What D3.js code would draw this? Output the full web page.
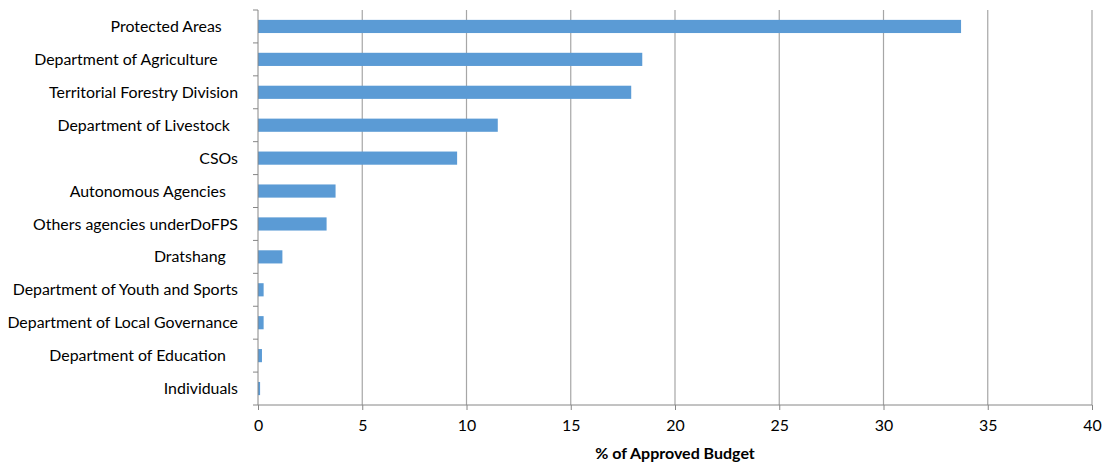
<!DOCTYPE html>
<html>
<head>
<meta charset="utf-8">
<script src="https://cdn.jsdelivr.net/npm/d3@7"></script>
<style>
  body { margin: 0; background: #fff; }
  text { font-family: Lato, "Open Sans", sans-serif; fill: #000; }
  .cat text { white-space: pre; }
</style>
</head>
<body>
<script>
// categories, top to bottom (trailing spaces as in the source sheet)
const categories = [
  "Protected Areas    ",
  "Department of Agriculture     ",
  "Territorial Forestry Division",
  "Department of Livestock  ",
  "CSOs",
  "Autonomous Agencies   ",
  "Others agencies underDoFPS",
  "Dratshang   ",
  "Department of Youth and Sports",
  "Department of Local Governance",
  "Department of Education   ",
  "Individuals"
];
const values = [33.72, 18.43, 17.9, 11.5, 9.55, 3.72, 3.29, 1.17, 0.27, 0.27, 0.19, 0.1];
const xTicks = [0, 5, 10, 15, 20, 25, 30, 35, 40];
const xTitle = "% of Approved Budget";

const width = 1106, height = 466;
const margin = {top: 10, right: 14, bottom: 61, left: 258};
const fontSize = 15.9;

const svg = d3.select("body").append("svg")
  .attr("width", width)
  .attr("height", height);

const g = svg.append("g")
  .attr("transform", "translate(" + margin.left + "," + margin.top + ")");

const w = width - margin.left - margin.right;
const h = height - margin.top - margin.bottom;

const x = d3.scaleLinear().domain([0, 40]).range([0, w]);
const y = d3.scaleBand().domain(categories).range([0, h]).paddingInner(0.6).paddingOuter(0.3);

// vertical gridlines
g.selectAll(".grid")
  .data(xTicks.slice(1))
  .enter().append("line")
  .attr("class", "grid")
  .attr("x1", d => x(d)).attr("x2", d => x(d))
  .attr("y1", 0).attr("y2", h)
  .attr("stroke", "#a6a6a6")
  .attr("stroke-width", 1.2);

// bars
g.selectAll(".bar")
  .data(values)
  .enter().append("rect")
  .attr("class", "bar")
  .attr("x", 0)
  .attr("y", (d, i) => y(categories[i]))
  .attr("width", d => x(d))
  .attr("height", y.bandwidth())
  .attr("fill", "#5b9bd5");

// y axis: ticks between categories
const step = h / categories.length;
const yAx = g.append("g").attr("class", "cat");
yAx.append("line")
  .attr("x1", 0).attr("x2", 0).attr("y1", 0).attr("y2", h)
  .attr("stroke", "#868686");
yAx.selectAll(".tk")
  .data(d3.range(categories.length + 1))
  .enter().append("line")
  .attr("x1", -5).attr("x2", 0)
  .attr("y1", d => d * step).attr("y2", d => d * step)
  .attr("stroke", "#868686");
yAx.selectAll(".lbl")
  .data(categories)
  .enter().append("text")
  .attr("x", -20)
  .attr("y", d => y(d) + y.bandwidth() / 2)
  .attr("dy", "0.35em")
  .attr("text-anchor", "end")
  .attr("font-size", fontSize)
  .text(d => d);

// x axis
const xAxis = g.append("g")
  .attr("transform", "translate(0," + h + ")")
  .call(d3.axisBottom(x).tickValues(xTicks).tickSize(5).tickPadding(10).tickFormat(d3.format("d")));
xAxis.select(".domain").attr("stroke", "#868686").attr("d", "M0,0H" + w);
xAxis.selectAll(".tick line").attr("stroke", "#868686");
xAxis.selectAll(".tick text")
  .attr("font-size", fontSize)
  .attr("font-family", "Lato, sans-serif")
  .attr("fill", "#000");

svg.append("text")
  .attr("x", margin.left + w / 2)
  .attr("y", 459)
  .attr("text-anchor", "middle")
  .attr("font-size", 16)
  .attr("font-weight", "bold")
  .text(xTitle);
</script>
</body>
</html>
